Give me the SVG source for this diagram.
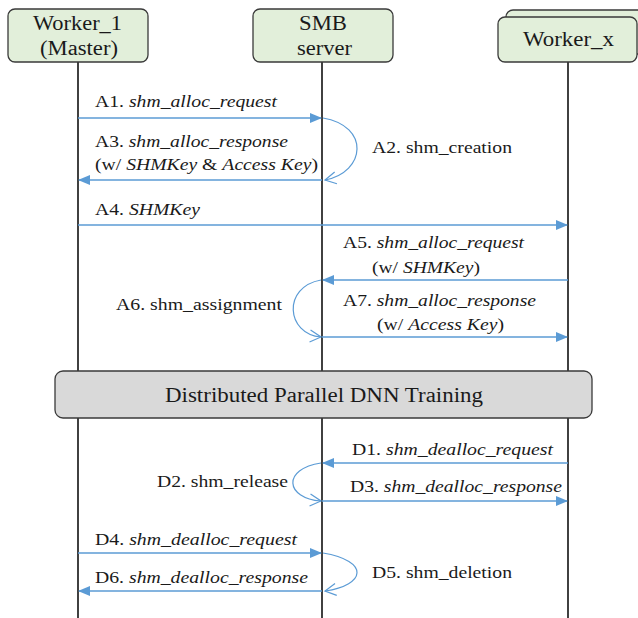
<svg xmlns="http://www.w3.org/2000/svg" width="638" height="618" viewBox="0 0 638 618">
<defs>
<marker id="tri" markerWidth="12" markerHeight="10" refX="11" refY="5" orient="auto" markerUnits="userSpaceOnUse"><path d="M0,0 L12,5 L0,10 Z" fill="#5b9bd5"/></marker>
<marker id="open" markerWidth="14" markerHeight="14" refX="12" refY="7" orient="auto" markerUnits="userSpaceOnUse"><path d="M1,1 L12,7 L1,13" fill="none" stroke="#5b9bd5" stroke-width="1.2"/></marker>
</defs>
<style>
text{font-family:"Liberation Serif","Liberation Sans",serif;fill:#1a1a1a}
.box{fill:#e2efda;stroke:#3a3a3a;stroke-width:1.3}
.life{stroke:#111;stroke-width:1.6}
.lbl{font-size:20px}
.msg{font-size:17px}
.it{font-style:italic}
.arr{stroke:#5b9bd5;stroke-width:1.3;fill:none;marker-end:url(#tri)}
.loop{stroke:#5b9bd5;stroke-width:1.2;fill:none;marker-end:url(#open)}
</style>
<rect width="638" height="618" fill="#fff"/>
<g id="lifelines">
<line class="life" x1="78" y1="62" x2="78" y2="618"/>
<line class="life" x1="322" y1="62" x2="322" y2="618"/>
<line class="life" x1="568" y1="62" x2="568" y2="618"/>
</g>
<g id="worker1">
<rect class="box" x="8" y="9" width="140" height="53" rx="7"/>
<text class="lbl" x="33" y="30" textLength="89" lengthAdjust="spacingAndGlyphs">Worker_1</text>
<text class="lbl" x="40" y="55" textLength="78" lengthAdjust="spacingAndGlyphs">(Master)</text>
</g>
<g id="smb">
<rect class="box" x="253" y="9" width="140" height="53" rx="7"/>
<text class="lbl" x="299" y="30" textLength="48" lengthAdjust="spacingAndGlyphs">SMB</text>
<text class="lbl" x="297" y="55" textLength="55" lengthAdjust="spacingAndGlyphs">server</text>
</g>
<g id="workerx">
<rect class="box" x="506" y="10" width="145" height="44" rx="7"/>
<rect class="box" x="498" y="17" width="139" height="45" rx="7"/>
<text class="lbl" x="523" y="46" textLength="91" lengthAdjust="spacingAndGlyphs">Worker_x</text>
</g>
<g id="training">
<rect x="55" y="371" width="537" height="47" rx="8" fill="#d9d9d9" stroke="#3a3a3a" stroke-width="1.3"/>
<text class="lbl" x="165" y="402" textLength="318" lengthAdjust="spacingAndGlyphs">Distributed Parallel DNN Training</text>
</g>
<g id="connectors">
<line class="arr" x1="78" y1="118" x2="321" y2="118"/>
<path class="loop" d="M323,118 C370,126 366,172 325,180"/>
<line class="arr" x1="322" y1="180" x2="79" y2="180"/>
<line class="arr" x1="78" y1="225" x2="567" y2="225"/>
<line class="arr" x1="568" y1="280" x2="323" y2="280"/>
<path class="loop" d="M321,280 C282,287 286,334 321,337"/>
<line class="arr" x1="322" y1="337" x2="567" y2="337"/>
<line class="arr" x1="568" y1="463" x2="323" y2="463"/>
<path class="loop" d="M321,463 C282,469 285,498 321,501"/>
<line class="arr" x1="322" y1="501" x2="567" y2="501"/>
<line class="arr" x1="78" y1="553" x2="321" y2="553"/>
<path class="loop" d="M323,553 C370,561 366,585 325,591"/>
<line class="arr" x1="322" y1="591" x2="79" y2="591"/>
</g>
<g id="labels">
<text class="msg" x="95" y="107" textLength="182" lengthAdjust="spacingAndGlyphs">A1. <tspan class="it">shm_alloc_request</tspan></text>
<text class="msg" x="95" y="147" textLength="193" lengthAdjust="spacingAndGlyphs">A3. <tspan class="it">shm_alloc_response</tspan></text>
<text class="msg" x="95" y="170" textLength="223" lengthAdjust="spacingAndGlyphs">(w/ <tspan class="it">SHMKey</tspan> &amp; <tspan class="it">Access Key</tspan>)</text>
<text class="msg" x="372" y="153" textLength="140" lengthAdjust="spacingAndGlyphs">A2. shm_creation</text>
<text class="msg" x="95" y="215" textLength="105" lengthAdjust="spacingAndGlyphs">A4. <tspan class="it">SHMKey</tspan></text>
<text class="msg" x="343" y="248" textLength="181" lengthAdjust="spacingAndGlyphs">A5. <tspan class="it">shm_alloc_request</tspan></text>
<text class="msg" x="372" y="273" textLength="108" lengthAdjust="spacingAndGlyphs">(w/ <tspan class="it">SHMKey</tspan>)</text>
<text class="msg" x="116" y="310" textLength="166" lengthAdjust="spacingAndGlyphs">A6. shm_assignment</text>
<text class="msg" x="343" y="306" textLength="193" lengthAdjust="spacingAndGlyphs">A7. <tspan class="it">shm_alloc_response</tspan></text>
<text class="msg" x="377" y="330" textLength="127" lengthAdjust="spacingAndGlyphs">(w/ <tspan class="it">Access Key</tspan>)</text>
<text class="msg" x="352" y="455" textLength="201" lengthAdjust="spacingAndGlyphs">D1. <tspan class="it">shm_dealloc_request</tspan></text>
<text class="msg" x="157" y="487" textLength="131" lengthAdjust="spacingAndGlyphs">D2. shm_release</text>
<text class="msg" x="350" y="492" textLength="212" lengthAdjust="spacingAndGlyphs">D3. <tspan class="it">shm_dealloc_response</tspan></text>
<text class="msg" x="95" y="545" textLength="202" lengthAdjust="spacingAndGlyphs">D4. <tspan class="it">shm_dealloc_request</tspan></text>
<text class="msg" x="372" y="578" textLength="140" lengthAdjust="spacingAndGlyphs">D5. shm_deletion</text>
<text class="msg" x="95" y="583" textLength="213" lengthAdjust="spacingAndGlyphs">D6. <tspan class="it">shm_dealloc_response</tspan></text>
</g>
</svg>
